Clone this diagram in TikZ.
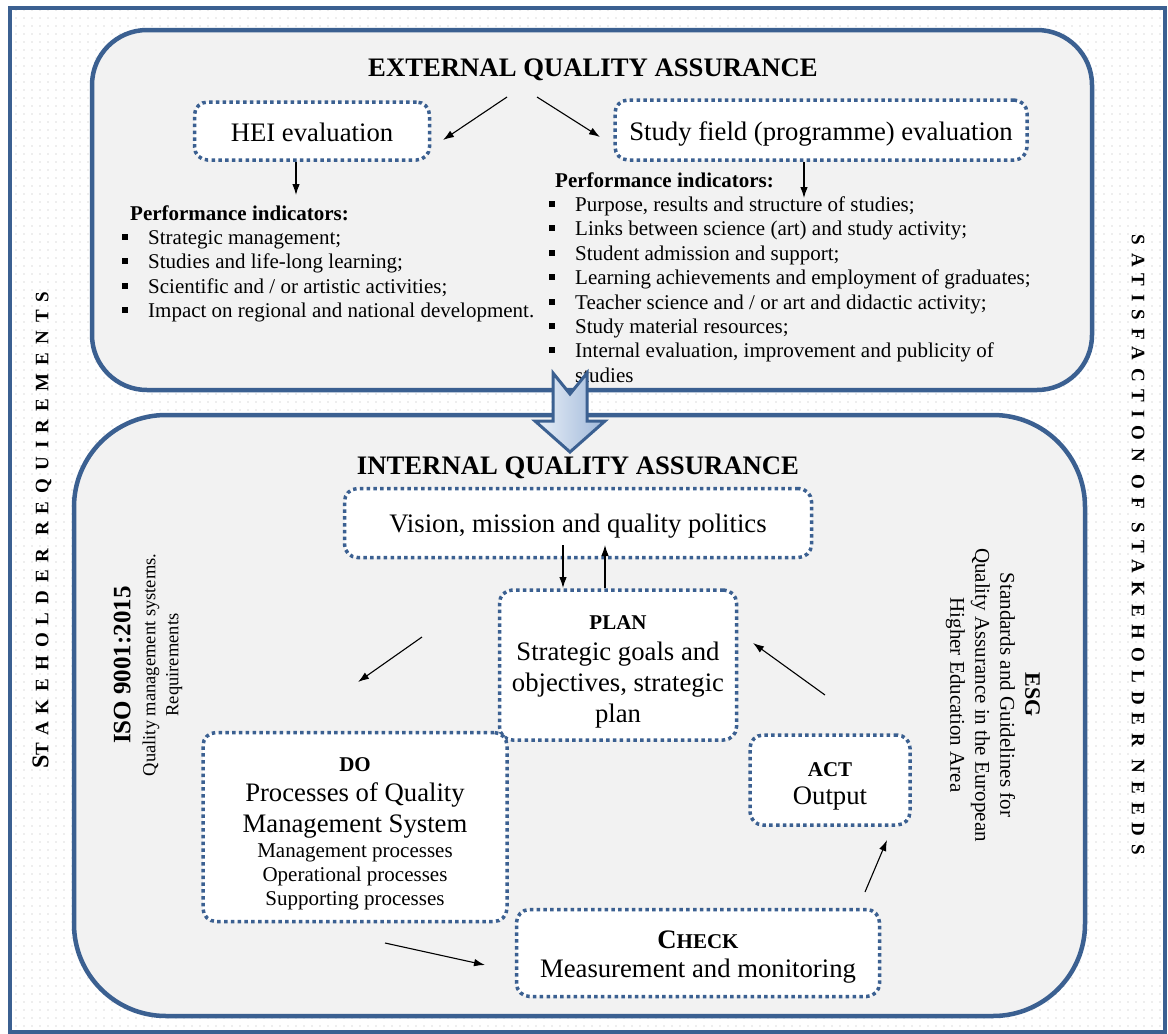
\documentclass[tikz,border=0pt]{standalone}
\usepackage{fontspec}
\setmainfont{Liberation Serif}
\newfontfamily\spaced[LetterSpace=42]{Liberation Serif}
\usetikzlibrary{arrows.meta,patterns.meta}
\definecolor{qblue}{RGB}{59,96,145}
\definecolor{qgray}{RGB}{242,242,242}
\definecolor{arrowl}{RGB}{234,240,248}
\definecolor{arrowr}{RGB}{158,183,217}
\newcommand\bg{\fontsize{26.7}{31}\selectfont}
\newcommand\md{\fontsize{21}{24.4}\selectfont}
\newcommand\sqb{\makebox[26pt][l]{\raisebox{4.5pt}{\rule{6pt}{6pt}}}}
\begin{document}
\begin{tikzpicture}[x=1pt,y=-1pt,
  qbox/.style={draw=qblue, line width=3.5pt, dash pattern=on 3.5pt off 3.3pt,
    rounded corners=13pt, fill=white, align=center, inner sep=0pt},
  area/.style={draw=qblue, line width=4.5pt, fill=qgray},
  arr/.style={-{Latex[length=11pt,width=7.5pt]}, line width=1.1pt},
  item/.style={anchor=base west, inner sep=0pt, font=\md},
  phead/.style={anchor=base west, inner sep=0pt, font=\md\bfseries}]
\useasboundingbox (0,0) rectangle (1168,1034);
\fill[white] (10,8) rectangle (1165,1032);
\fill[pattern={Dots[distance=8pt,radius=0.6pt]}, pattern color=gray!55] (10,8) rectangle (1165,1032);
\draw[qblue, line width=4pt] (10,8) rectangle (1165,1032);
\node[rotate=90, font=\spaced\bfseries] (stake) at (42,530)
  {{\fontsize{24}{24}\selectfont S}{\fontsize{19}{19}\selectfont TAKEHOLDER REQUIREMENTS}};
\node[rotate=-90, font=\spaced\bfseries\fontsize{19}{19}\selectfont] (satis) at (1138,545)
  {SATISFACTION OF STAKEHOLDER NEEDS};
\draw[area, rounded corners=55pt] (92,30) rectangle (1092,390);
\node[font=\bg\bfseries] (ext) at (593,70) {EXTERNAL QUALITY ASSURANCE};
\node[qbox, minimum width=235pt, minimum height=58pt, font=\bg] (hei) at (312,131)
  {\rule{0pt}{22pt}HEI evaluation};
\node[qbox, minimum width=412pt, minimum height=60pt, font=\bg] (field) at (821,130)
  {\rule{0pt}{26pt}Study field (programme) evaluation};
\coordinate (e1) at (507,97);
\coordinate (e1b) at (443,140);
\coordinate (e2) at (537,97);
\coordinate (e2b) at (600,137);
\coordinate (h0) at (296,195);
\coordinate (f0) at (804,198);
\draw[arr] (e1) -- (e1b);
\draw[arr] (e2) -- (e2b);
\draw[arr] (hei.south -| h0) -- (h0);
\node[phead] (hhead) at (130,220) {Performance indicators:};
\foreach \t [count=\i] in {Strategic management;, Studies and life-long learning;,
  Scientific and / or artistic activities;, Impact on regional and national development.}
  \node[item] (h\i) at (122,219.9+24.4*\i) {\sqb\t};
\node[phead] (fhead) at (555,187) {Performance indicators:};
\foreach \t [count=\i] in {{Purpose, results and structure of studies;},
  Links between science (art) and study activity;, Student admission and support;,
  Learning achievements and employment of graduates;,
  Teacher science and / or art and didactic activity;, Study material resources;,
  {Internal evaluation, improvement and publicity of}}
  \node[item] (f\i) at (549,187.1+24.4*\i) {\sqb\t};
\node[item] (f8) at (575,382.3) {studies};
\draw[arr] (field.south -| f0) -- (f0);
\draw[area, rounded corners=92pt] (74,415) rectangle (1085,1016);
\draw[qblue, line width=3pt, line join=miter, left color=arrowl, right color=arrowr]
  (553,373) -- (570,394) -- (587,373) -- (587,421) -- (605,421) -- (570,452)
  -- (535,421) -- (553,421) -- cycle;
\node[font=\bg\bfseries] (int) at (578,468) {INTERNAL QUALITY ASSURANCE};
\node[qbox, minimum width=467pt, minimum height=69pt, font=\bg] (vision) at (578,523)
  {\rule{0pt}{25pt}Vision, mission and quality politics};
\node[qbox, minimum width=237pt, minimum height=150pt, font=\bg] (plan) at (618,665)
  {{\md\bfseries\rule{0pt}{27pt}PLAN}\\ Strategic goals and\\ objectives, strategic\\ plan};
\node[qbox, minimum width=304pt, minimum height=189pt, font=\md] (do) at (355,827)
  {{\bfseries\rule{0pt}{28pt}DO}\\[5.5pt] {\bg Processes of Quality}\\[6.5pt] {\bg Management System}\\[0.5pt]
   Management processes\\ Operational processes\\ Supporting processes};
\node[qbox, minimum width=160pt, minimum height=90pt, font=\bg] (act) at (830,780)
  {{\md\bfseries\rule{0pt}{27pt}ACT}\\[-3pt] Output};
\node[qbox, minimum width=363pt, minimum height=87pt, font=\bg] (check) at (698,953)
  {{\bfseries\rule{0pt}{26pt}C\md HECK}\\[-2pt] Measurement and monitoring};
\coordinate (p1) at (563,545);
\coordinate (p1b) at (563,588);
\coordinate (p2) at (605,545);
\draw[arr] (p1) -- (p1b);
\draw[arr] (plan.north -| p2) -- (p2);
\coordinate (c1) at (422,637);
\coordinate (c2) at (358,682);
\coordinate (c3) at (385,943);
\coordinate (c4) at (485,965);
\coordinate (c5) at (865,892);
\coordinate (c6) at (887,840);
\coordinate (c7) at (825,695);
\coordinate (c8) at (753,643);
\draw[arr] (c1) -- (c2);
\draw[arr] (c3) -- (c4);
\draw[arr] (c5) -- (c6);
\draw[arr] (c7) -- (c8);
\node[rotate=90, align=center, font=\fontsize{18.5}{23}\selectfont] (iso) at (148,665)
  {{\fontsize{25}{27}\selectfont\bfseries ISO 9001:2015}\\[2pt] Quality management systems.\\ Requirements};
\node[rotate=-90, align=center, font=\fontsize{21}{25}\selectfont] (esg) at (993,695)
  {{\fontsize{22}{25}\selectfont\bfseries ESG}\\ Standards and Guidelines for\\
   Quality Assurance in the European\\ Higher Education Area};
\end{tikzpicture}
\end{document}
